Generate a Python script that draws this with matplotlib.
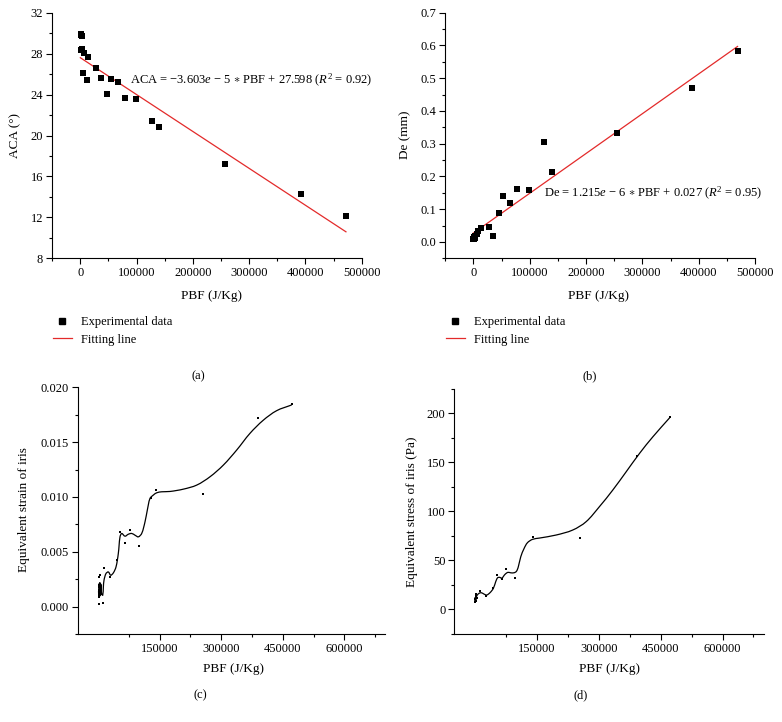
import matplotlib
matplotlib.use("Agg")
import numpy as np
import matplotlib.pyplot as plt
from matplotlib.lines import Line2D
from matplotlib.path import Path
from matplotlib.patches import PathPatch
from matplotlib.ticker import MultipleLocator, FixedLocator, FormatStrFormatter

plt.rcParams['font.family'] = ['Liberation Serif', 'DejaVu Serif']
plt.rcParams['mathtext.fontset'] = 'custom'
plt.rcParams['mathtext.rm'] = 'Liberation Serif'
plt.rcParams['mathtext.it'] = 'Liberation Serif:italic'
plt.rcParams['axes.unicode_minus'] = False

# ---------------- data ----------------
# (a) anterior chamber angle vs PBF
pbf_a = [800, 1500, 2400, 1000, 3500, 7000, 14200, 27900, 5300, 11300, 37300,
         54000, 66400, 46900, 78900, 99500, 127400, 140300, 257000, 392000, 472700]
aca = [29.95, 29.85, 29.7, 28.4, 28.42, 28.03, 27.64, 26.57, 26.08, 25.42, 25.59,
       25.49, 25.23, 24.03, 23.69, 23.54, 21.39, 20.80, 17.25, 14.25, 12.13]
fit_a_slope, fit_a_icpt = -3.603e-5, 27.598
fit_a_x = [0, 472000]

# (b) De vs PBF
pbf_b = [0, 500, 1200, 1800, 2500, 3550, 5900, 8900, 13000, 27200, 35500, 45600,
         52700, 65700, 77500, 98200, 126000, 139600, 255000, 388800, 469000]
de = [0.008, 0.010, 0.011, 0.014, 0.012, 0.018, 0.024, 0.032, 0.043, 0.047, 0.019,
      0.0875, 0.140, 0.120, 0.161, 0.158, 0.306, 0.213, 0.333, 0.470, 0.584]
fit_b_slope, fit_b_icpt = 1.215e-6, 0.027
fit_b_x = [0, 469000]

# (c) equivalent strain of iris
pbf_c = [1000, 1500, 2000, 2500, 3000, 4000, 2190, 4630, 2920, 11200, 14370, 29000,
         46800, 54200, 66300, 78500, 99600, 128100, 140300, 255500, 390300, 471500]
strain = [0.0015, 0.0012, 0.0018, 0.0009, 0.0020, 0.0013, 0.0027, 0.0029, 0.0002,
          0.0003, 0.00356, 0.0027, 0.00423, 0.00679, 0.00581, 0.00694, 0.00554,
          0.00987, 0.01062, 0.01023, 0.01723, 0.01845]
curve_c_x = [1000, 1800, 2600, 3400, 4200, 5000, 5800, 6600, 7400, 8200, 11200, 12800,
             14370, 19250, 24850, 30700, 37030, 43600, 49200, 53350, 57500, 65540,
             73580, 81860, 89900, 97940, 106200, 114250, 119870, 126440, 134500,
             142800, 155000, 175200, 207600, 240200, 272600, 305000, 337700, 370000,
             402500, 435100, 471600]
curve_c_y = [0.0014, 0.0009, 0.0021, 0.0009, 0.0022, 0.0010, 0.0021, 0.0011, 0.0020,
             0.0012, 0.00103, 0.0018, 0.00241, 0.00302, 0.00316, 0.00286, 0.00307,
             0.00362, 0.00484, 0.00636, 0.00667, 0.00642, 0.0066, 0.00667, 0.00651,
             0.00636, 0.00667, 0.00773, 0.0088, 0.00987, 0.01017, 0.01038, 0.01047,
             0.01050, 0.01071, 0.01108, 0.01184, 0.0129, 0.01428, 0.0158, 0.0170,
             0.01787, 0.01839]

# (d) equivalent stress of iris
pbf_d = [500, 1200, 2000, 2800, 3500, 4500, 12200, 26800, 44600, 52700, 64900,
         76200, 98100, 139500, 255400, 392400, 472700]
stress = [6.8, 9.9, 13.3, 8.5, 15.0, 11.0, 18.2, 13.5, 21.0, 34.8, 30.3, 40.5,
          31.5, 73.9, 72.9, 156.7, 195.9]
curve_d_x = [-500, 800, 1500, 2200, 3000, 4000, 5700, 9700, 15300, 21900, 28400,
             36500, 44600, 50300, 55000, 60000, 65000, 73000, 80000, 87000, 95000,
             100500, 105000, 111100, 119200, 127300, 139400, 155700, 196300, 236700,
             269200, 301600, 334000, 366500, 398900, 431300, 471900]
curve_d_y = [7.5, 12.0, 9.0, 13.5, 10.0, 13.0, 14.3, 16.0, 16.7, 15.3, 14.3, 16.7,
             21.1, 27.9, 32.0, 32.4, 31.5, 35.5, 37.5, 37.0, 37.1, 38.5, 43.0, 53.5,
             62.0, 67.8, 71.2, 72.5, 75.6, 80.7, 89.2, 104.6, 121.6, 140.3, 159.1,
             176.1, 195.5]

# ---------------- layout ----------------
W, H = 782, 722
fig = plt.figure(figsize=(W / 100, H / 100), dpi=100)


def add_axes(l, r, t, b):
    return fig.add_axes([l / W, 1 - b / H, (r - l) / W, (b - t) / H])


def style(ax):
    for s in ['top', 'right']:
        ax.spines[s].set_visible(False)
    for s in ['left', 'bottom']:
        ax.spines[s].set_linewidth(0.8)
    ax.tick_params(which='major', direction='out', length=4.5, width=0.8,
                   labelsize=9, pad=2)
    ax.tick_params(which='minor', direction='out', length=2.5, width=0.8)


def smooth_curve(ax, xs, ys, **kw):
    """Draw a smooth Bezier path through the given points (chord-length Catmull-Rom)."""
    x0, x1 = ax.get_xlim()
    y0, y1 = ax.get_ylim()
    sx, sy = (x1 - x0), (y1 - y0)
    P = np.column_stack([np.asarray(xs, float) / sx, np.asarray(ys, float) / sy])
    n = len(P)
    d = np.hypot(*np.diff(P, axis=0).T)
    T = np.zeros_like(P)
    for i in range(n):
        if i == 0:
            T[i] = (P[1] - P[0]) / d[0]
        elif i == n - 1:
            T[i] = (P[-1] - P[-2]) / d[-1]
        else:
            T[i] = (P[i + 1] - P[i - 1]) / (d[i - 1] + d[i])
    verts = [P[0]]
    codes = [Path.MOVETO]
    for i in range(n - 1):
        c1 = P[i] + T[i] * d[i] / 3
        c2 = P[i + 1] - T[i + 1] * d[i] / 3
        verts += [c1, c2, P[i + 1]]
        codes += [Path.CURVE4] * 3
    V = np.array(verts) * [sx, sy]
    ax.add_patch(PathPatch(Path(V, codes), fill=False, **kw))


FS_LABEL = 9.5
RED = '#e32a2a'

axa = add_axes(52.2, 361.7, 12.67, 258.33)
axb = add_axes(445.2, 755.0, 12.67, 258.33)
axc = add_axes(77.6, 385.4, 387.3, 634.0)
axd = add_axes(454.3, 763.8, 388.9, 633.5)

# (a)
style(axa)
axa.scatter(pbf_a, aca, marker='s', s=24, color='black', zorder=3, linewidths=0)
axa.plot(fit_a_x, [fit_a_slope * x + fit_a_icpt for x in fit_a_x], color=RED, lw=0.9)
axa.set_xlim(-50000, 500000)
axa.set_ylim(8, 32)
axa.xaxis.set_major_locator(MultipleLocator(100000))
axa.xaxis.set_minor_locator(MultipleLocator(50000))
axa.yaxis.set_major_locator(MultipleLocator(4))
axa.yaxis.set_minor_locator(MultipleLocator(2))
axa.xaxis.set_major_formatter(FormatStrFormatter('%d'))
axa.set_xlabel('PBF (J/Kg)', fontsize=FS_LABEL)
axa.set_ylabel('ACA (°)', fontsize=FS_LABEL)
axa.text(88000, 25.4, 'ACA = −3.603$e$ − 5 $\\ast$ PBF + 27.598 ($R^2$ = 0.92)',
         fontsize=9, ha='left', va='center')

# (b)
style(axb)
axb.scatter(pbf_b, de, marker='s', s=24, color='black', zorder=3, linewidths=0)
axb.plot(fit_b_x, [fit_b_slope * x + fit_b_icpt for x in fit_b_x], color=RED, lw=0.9)
axb.set_xlim(-50000, 500000)
axb.set_ylim(-0.05, 0.7)
axb.xaxis.set_major_locator(MultipleLocator(100000))
axb.xaxis.set_minor_locator(MultipleLocator(50000))
axb.yaxis.set_major_locator(FixedLocator([0, 0.1, 0.2, 0.3, 0.4, 0.5, 0.6, 0.7]))
axb.yaxis.set_minor_locator(MultipleLocator(0.05))
axb.xaxis.set_major_formatter(FormatStrFormatter('%d'))
axb.yaxis.set_major_formatter(FormatStrFormatter('%.1f'))
axb.set_xlabel('PBF (J/Kg)', fontsize=FS_LABEL)
axb.set_ylabel('De (mm)', fontsize=FS_LABEL)
axb.text(125000, 0.1465, 'De = 1.215$e$ − 6 $\\ast$ PBF + 0.027 ($R^2$ = 0.95)',
         fontsize=9, ha='left', va='center')

# (c)
style(axc)
axc.set_xlim(-50000, 700000)
axc.set_ylim(-0.0025, 0.020)
smooth_curve(axc, curve_c_x, curve_c_y, edgecolor='black', lw=0.9)
axc.scatter(pbf_c, strain, marker='s', s=2.5, color='black', zorder=3, linewidths=0)
axc.xaxis.set_major_locator(FixedLocator([150000, 300000, 450000, 600000]))
axc.xaxis.set_minor_locator(FixedLocator([75000, 225000, 375000, 525000, 675000]))
axc.yaxis.set_major_locator(FixedLocator([0, 0.005, 0.010, 0.015, 0.020]))
axc.yaxis.set_minor_locator(FixedLocator([-0.0025, 0.0025, 0.0075, 0.0125, 0.0175]))
axc.xaxis.set_major_formatter(FormatStrFormatter('%d'))
axc.yaxis.set_major_formatter(FormatStrFormatter('%.3f'))
axc.set_xlabel('PBF (J/Kg)', fontsize=FS_LABEL)
axc.set_ylabel('Equivalent strain of iris', fontsize=FS_LABEL)

# (d)
style(axd)
axd.set_xlim(-50000, 700000)
axd.set_ylim(-25, 225)
smooth_curve(axd, curve_d_x, curve_d_y, edgecolor='black', lw=0.9)
axd.scatter(pbf_d, stress, marker='s', s=2.5, color='black', zorder=3, linewidths=0)
axd.xaxis.set_major_locator(FixedLocator([150000, 300000, 450000, 600000]))
axd.xaxis.set_minor_locator(FixedLocator([75000, 225000, 375000, 525000, 675000]))
axd.yaxis.set_major_locator(FixedLocator([0, 50, 100, 150, 200]))
axd.yaxis.set_minor_locator(FixedLocator([-25, 25, 75, 125, 175, 225]))
axd.xaxis.set_major_formatter(FormatStrFormatter('%d'))
axd.set_xlabel('PBF (J/Kg)', fontsize=FS_LABEL)
axd.set_ylabel('Equivalent stress of iris (Pa)', fontsize=FS_LABEL)

# label positions (axes fraction)
for ax, xl, yl in [(axa, (0.516, -0.153), (-0.118, 0.502)),
                   (axb, (0.495, -0.153), (-0.130, 0.502)),
                   (axc, (0.506, -0.143), (-0.174, 0.503)),
                   (axd, (0.501, -0.146), (-0.138, 0.498))]:
    ax.xaxis.label.set_va('center')
    ax.yaxis.label.set_va('center')
    ax.xaxis.set_label_coords(*xl)
    ax.yaxis.set_label_coords(*yl)

# legends for (a) and (b)
handles = [Line2D([], [], marker='s', color='black', ls='none', ms=5),
           Line2D([], [], color=RED, lw=0.9)]
for xleft in (53, 446):
    fig.legend(handles, ['Experimental data', 'Fitting line'], loc='upper left',
               bbox_to_anchor=(xleft / W, 1 - 316 / H), frameon=False,
               fontsize=9, handlelength=1.5, handletextpad=0.75,
               labelspacing=0.45, borderpad=0, borderaxespad=0)

# panel captions
for x, y, s in [(198, 376, '(a)'), (590, 376, '(b)'), (200, 695, '(c)'), (581, 695, '(d)')]:
    fig.text(x / W, 1 - y / H, s, ha='center', va='center', fontsize=9)

fig.savefig('out.png', dpi=100)
